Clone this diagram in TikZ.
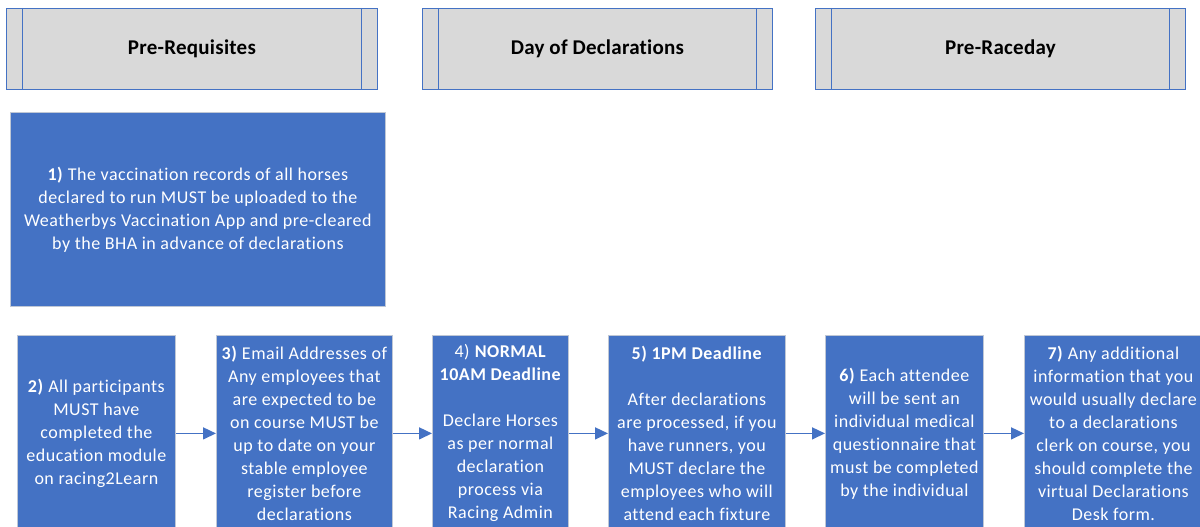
\documentclass[tikz,border=0pt]{standalone}
\usepackage{fontspec}
\setmainfont{Carlito}[LetterSpace=2.8,Ligatures=NoCommon]
\newfontfamily\hdrfont{Carlito}[LetterSpace=1.2,Ligatures=NoCommon]
\usetikzlibrary{arrows.meta}
\definecolor{blu}{HTML}{4472C4}
\definecolor{hdr}{HTML}{D9D9D9}
\definecolor{edgegray}{HTML}{BFC7D5}
\begin{document}
\begin{tikzpicture}[x=1pt,y=-1pt,
 hdrbox/.style={draw=blu, fill=hdr, line width=0.9pt, anchor=north west, inner sep=0,
   font=\hdrfont\fontsize{21}{23}\selectfont\bfseries, text=black},
 bluebox/.style={draw=edgegray, fill=blu, line width=0.8pt, anchor=north west, inner sep=0,
   text=white, align=center, font=\fontsize{18}{23}\selectfont},
 flow/.style={draw=blu, line width=1.5pt, -{Triangle[length=13pt,width=12pt]}}]
\useasboundingbox (0,0) rectangle (1200,527);
\clip (0,0) rectangle (1200,527);
% headers
\node[hdrbox, minimum width=371pt, minimum height=81pt] (h1) at (6,8) {Pre-Requisites};
\node[hdrbox, minimum width=350pt, minimum height=81pt] (h2) at (422,8) {Day of Declarations};
\node[hdrbox, minimum width=370pt, minimum height=81pt] (h3) at (815,8) {Pre-Raceday};
\foreach \h in {h1,h2,h3}{
  \draw[blu, line width=0.9pt] ([xshift=16.5pt]\h.north west) -- ([xshift=16.5pt]\h.south west);
  \draw[blu, line width=0.9pt] ([xshift=-16.5pt]\h.north east) -- ([xshift=-16.5pt]\h.south east);
}
% box 1
\node[bluebox, minimum width=375pt, minimum height=194pt] (b1) at (10,112)
 {\textbf{1)} The vaccination records of all horses\\declared to run MUST be uploaded to the\\Weatherbys Vaccination App and pre-cleared\\by the BHA in advance of declarations};
% bottom row
\node[bluebox, minimum width=158pt, minimum height=196pt] (b2) at (17,335)
 {\textbf{2)} All participants\\MUST have\\completed the\\education module\\on racing2Learn};
\node[bluebox, minimum width=176pt, minimum height=196pt] (b3) at (216,335)
 {\textbf{3)} Email Addresses of\\Any employees that\\are expected to be\\on course MUST be\\up to date on your\\stable employee\\register before\\declarations};
\node[bluebox, minimum width=136pt, minimum height=196pt] (b4) at (432,335)
 {4) \textbf{NORMAL}\\\textbf{10AM Deadline}\\[23pt]Declare Horses\\as per normal\\declaration\\process via\\Racing Admin};
\node[bluebox, minimum width=177pt, minimum height=196pt] (b5) at (608,335)
 {\textbf{5) 1PM Deadline}\\[23pt]After declarations\\are processed, if you\\have runners, you\\MUST declare the\\employees who will\\attend each fixture};
\node[bluebox, minimum width=158pt, minimum height=196pt] (b6) at (825,335)
 {\textbf{6)} Each attendee\\will be sent an\\individual medical\\questionnaire that\\must be completed\\by the individual};
\node[bluebox, minimum width=178pt, minimum height=196pt] (b7) at (1024,335)
 {\textbf{7)} Any additional\\information that you\\would usually declare\\to a declarations\\clerk on course, you\\should complete the\\virtual Declarations\\Desk form.};
% connectors
\draw[flow] (b2.east) -- (b3.west);
\draw[flow] (b3.east) -- (b4.west);
\draw[flow] (b4.east) -- (b5.west);
\draw[flow] (b5.east) -- (b6.west);
\draw[flow] (b6.east) -- (b7.west);
\end{tikzpicture}
\end{document}
